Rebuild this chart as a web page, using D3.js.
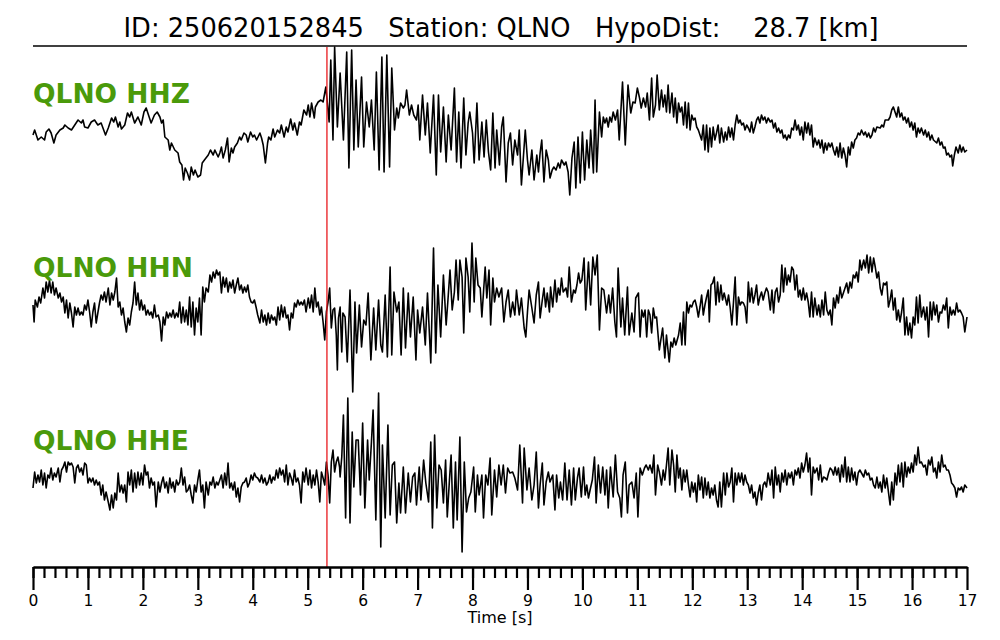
<!DOCTYPE html>
<html><head><meta charset="utf-8">
<script src="https://cdn.jsdelivr.net/npm/d3@7"></script>
<style>body{margin:0;background:#fff}svg{display:block}text{white-space:pre}</style>
</head><body>
<svg id="c" width="1000" height="640"></svg>
<script>
const titleText = "ID: 250620152845   Station: QLNO   HypoDist:    28.7 [km]";
const channels = ["QLNO HHZ", "QLNO HHN", "QLNO HHE"];
const pickTime = 5.35;
const majorTicks = d3.range(0, 18, 1);
const minorTicks = d3.range(0, 85).map(i => i * 0.2);
const xLabel = "Time [s]";

const hhz = [[0,-15],[0.03,-10],[0.09,-20],[0.15,-17],[0.21,-20],[0.24,-12],[0.29,-9],[0.33,-13],[0.38,-23],[0.42,-15],[0.49,-10],[0.55,-8],[0.58,-5],[0.64,-8],[0.70,-10],[0.76,-5],[0.82,0],[0.88,-3],[0.91,0],[0.94,-7],[1.00,-8],[1.06,-2],[1.12,0],[1.18,-5],[1.24,-3],[1.32,-15],[1.37,-8],[1.43,2],[1.47,-2],[1.50,3],[1.55,-7],[1.58,-2],[1.61,-9],[1.67,-5],[1.72,7],[1.76,3],[1.79,8],[1.85,-3],[1.91,3],[1.97,-5],[2.02,8],[2.06,12],[2.09,7],[2.15,-3],[2.21,5],[2.26,8],[2.31,3],[2.34,-3],[2.37,0],[2.40,-17],[2.46,-20],[2.49,-30],[2.52,-23],[2.58,-30],[2.64,-33],[2.67,-42],[2.71,-45],[2.74,-60],[2.77,-48],[2.81,-53],[2.85,-60],[2.88,-47],[2.92,-55],[2.95,-50],[3.00,-57],[3.05,-55],[3.08,-43],[3.12,-40],[3.19,-35],[3.23,-30],[3.28,-35],[3.31,-30],[3.37,-37],[3.40,-33],[3.43,-27],[3.46,-38],[3.50,-30],[3.54,-18],[3.57,-42],[3.61,-28],[3.64,-33],[3.67,-27],[3.72,-23],[3.76,-17],[3.79,-20],[3.84,-13],[3.88,-15],[3.91,-22],[3.96,-12],[4.00,-17],[4.03,-15],[4.07,-20],[4.13,-13],[4.16,-18],[4.19,-25],[4.23,-43],[4.27,-23],[4.29,-17],[4.33,-20],[4.37,-9],[4.40,-17],[4.45,-10],[4.49,-13],[4.52,-5],[4.57,-17],[4.61,-7],[4.64,-12],[4.69,1],[4.73,-10],[4.76,-3],[4.81,-15],[4.85,-2],[4.88,-5],[4.93,10],[4.98,5],[5.01,15],[5.04,3],[5.07,17],[5.12,2],[5.14,13],[5.19,18],[5.24,20],[5.28,18],[5.33,33],[5.39,-2],[5.42,60],[5.46,-20],[5.49,73],[5.54,-7],
[5.59,47],[5.65,-20],[5.71,68],[5.75,-48],[5.80,70],[5.84,-30],[5.88,40],[5.92,-27],[5.98,43],[6.02,-27],[6.07,18],[6.12,-7],[6.16,20],[6.21,-30],[6.25,48],[6.30,-50],[6.35,63],[6.39,-52],[6.44,65],[6.49,-47],[6.53,52],[6.58,-10],[6.62,12],[6.65,2],[6.69,17],[6.74,12],[6.77,15],[6.80,30],[6.85,5],[6.89,15],[6.93,5],[6.98,0],[7.01,15],[7.04,-20],[7.09,25],[7.14,-15],[7.18,17],[7.23,-33],[7.29,25],[7.34,-55],[7.38,25],[7.42,-32],[7.47,13],[7.52,-42],[7.56,5],[7.61,-30],[7.67,32],[7.71,-42],[7.75,8],[7.79,-48],[7.84,22],[7.88,-35],[7.92,-3],[7.95,8],[8.00,-13],[8.03,-43],[8.08,17],[8.12,-40],[8.17,-2],[8.21,-37],[8.25,0],[8.29,-32],[8.33,-50],[8.37,7],[8.41,-48],[8.44,-10],[8.49,-45],[8.53,-7],[8.56,3],[8.61,-62],[8.65,-23],[8.69,-13],[8.73,-45],[8.77,-20],[8.82,-35],[8.85,-10],[8.89,-65],[8.96,-10],[9.00,-40],[9.03,-55],[9.08,-30],[9.12,-60],[9.17,-35],[9.20,-52],[9.23,-33],[9.26,-20],[9.30,-62],[9.34,-30],[9.38,-40],[9.41,-58],[9.45,-50],[9.48,-47],[9.52,-50],[9.56,-43],[9.59,-48],[9.62,-40],[9.67,-45],[9.70,-42],[9.74,-52],[9.77,-75],[9.81,-38],[9.85,-22],[9.88,-68],[9.92,-17],[9.96,-63],[10.00,-12],[10.04,-60],[10.08,-20],[10.12,-48],[10.15,-10],[10.20,-53],[10.23,20],[10.26,-52],[10.31,8],[10.35,-17],[10.38,3],[10.41,-3],[10.44,2],[10.47,-7],[10.50,3],[10.53,-2],[10.56,8],[10.60,0],[10.64,10],[10.67,-20],[10.73,38],[10.78,-25],[10.83,35],[10.88,7],[10.92,18],[10.96,17],[11.00,32],[11.04,22],[11.07,12],[11.11,22],[11.15,13],[11.18,27],[11.22,0],[11.26,42],[11.29,3],[11.33,15],[11.36,45],[11.40,10],
[11.44,30],[11.47,13],[11.50,25],[11.53,8],[11.56,35],[11.59,7],[11.63,27],[11.66,3],[11.69,22],[11.72,-3],[11.75,17],[11.78,8],[11.81,13],[11.84,-5],[11.87,18],[11.90,-8],[11.93,17],[11.96,-10],[11.99,5],[12.02,0],[12.05,2],[12.08,-7],[12.11,-10],[12.14,-15],[12.17,-20],[12.20,-5],[12.23,-30],[12.26,-5],[12.29,-32],[12.32,-8],[12.35,-27],[12.38,-7],[12.41,-20],[12.44,-13],[12.47,-5],[12.50,-23],[12.53,-8],[12.57,-22],[12.60,-12],[12.63,-20],[12.66,-7],[12.69,-17],[12.72,-8],[12.75,-20],[12.78,-5],[12.81,5],[12.84,-3],[12.87,0],[12.90,-5],[12.93,-3],[12.96,-10],[12.99,-5],[13.02,-8],[13.05,-12],[13.08,-2],[13.11,-13],[13.14,-7],[13.17,0],[13.20,3],[13.23,-3],[13.26,5],[13.29,0],[13.32,3],[13.35,-3],[13.38,2],[13.42,-2],[13.45,0],[13.48,-8],[13.51,-3],[13.54,-12],[13.57,-8],[13.60,-13],[13.63,-10],[13.66,-18],[13.69,-15],[13.72,-20],[13.75,-15],[13.78,-18],[13.81,-8],[13.84,-10],[13.87,0],[13.90,-10],[13.93,-5],[13.96,-15],[13.99,-7],[14.02,-20],[14.05,-2],[14.08,-13],[14.11,-3],[14.14,-15],[14.17,-5],[14.20,-27],[14.23,-18],[14.27,-25],[14.30,-20],[14.33,-28],[14.36,-20],[14.39,-33],[14.42,-23],[14.45,-30],[14.48,-23],[14.51,-27],[14.54,-23],[14.57,-30],[14.60,-35],[14.63,-27],[14.66,-37],[14.69,-23],[14.72,-38],[14.75,-28],[14.78,-35],[14.81,-47],[14.84,-27],[14.87,-35],[14.90,-22],[14.93,-28],[14.96,-20],[14.99,-18],[15.02,-13],[15.05,-15],[15.08,-10],[15.12,-15],[15.15,-12],[15.18,-17],[15.21,-13],[15.24,-18],[15.27,-15],[15.30,-8],[15.33,-12],[15.36,-7],[15.42,-8],[15.45,-5],[15.48,-7],[15.51,0],[15.57,0],[15.60,3],[15.63,10],[15.66,13],[15.69,8],[15.72,3],[15.75,13],[15.78,3],[15.81,7],[15.84,0],[15.87,3],[15.90,-3],[15.93,2],[15.96,-7],[15.99,-2],[16.02,-10],[16.05,-3],[16.08,-17],[16.11,-8],[16.14,-13],[16.17,-8],[16.21,-15],[16.24,-10],[16.27,-17],[16.30,-12],[16.33,-20],[16.36,-15],[16.39,-20],[16.45,-23],[16.48,-18],[16.51,-25],[16.54,-22],[16.57,-28],[16.60,-27],[16.63,-35],[16.66,-33],[16.69,-37],[16.72,-35],[16.74,-46],[16.77,-35],[16.80,-27],[16.84,-33],[16.87,-25],[16.90,-32],[16.93,-27],[16.96,-32],[17.00,-30]];

const hhn = [[0,10],[0.02,-7],[0.04,15],[0.08,8],[0.11,18],[0.14,12],[0.18,27],[0.21,17],[0.24,33],[0.27,23],[0.30,35],[0.33,22],[0.36,33],[0.39,20],[0.42,27],[0.46,17],[0.49,22],[0.52,13],[0.55,18],[0.58,2],[0.61,15],[0.64,-3],[0.67,12],[0.70,2],[0.73,-12],[0.76,8],[0.79,0],[0.82,7],[0.85,0],[0.88,3],[0.91,0],[0.94,10],[0.97,5],[1.00,15],[1.03,3],[1.06,-12],[1.09,3],[1.12,12],[1.15,-8],[1.18,2],[1.21,12],[1.24,20],[1.27,15],[1.30,23],[1.33,13],[1.37,27],[1.40,10],[1.43,22],[1.46,15],[1.49,23],[1.52,37],[1.55,8],[1.58,13],[1.61,0],[1.64,7],[1.67,-7],[1.70,-17],[1.73,-3],[1.76,-10],[1.79,3],[1.82,12],[1.85,33],[1.88,10],[1.91,22],[1.94,5],[1.97,15],[2.00,5],[2.03,10],[2.06,0],[2.09,5],[2.12,0],[2.15,3],[2.18,-3],[2.21,10],[2.24,-2],[2.28,0],[2.31,-7],[2.34,-26],[2.37,-2],[2.40,-10],[2.43,3],[2.46,-3],[2.49,2],[2.52,-2],[2.55,5],[2.58,-3],[2.61,2],[2.64,-2],[2.67,13],[2.70,-8],[2.73,8],[2.76,-7],[2.79,5],[2.82,-10],[2.85,18],[2.88,-12],[2.91,13],[2.94,-20],[2.97,7],[3.00,-7],[3.03,17],[3.06,-20],[3.09,28],[3.12,13],[3.15,27],[3.19,23],[3.22,40],[3.25,33],[3.28,43],[3.31,37],[3.34,45],[3.37,40],[3.40,43],[3.43,22],[3.46,38],[3.49,28],[3.52,37],[3.55,23],[3.58,33],[3.61,27],[3.64,35],[3.67,22],[3.70,30],[3.73,37],[3.76,25],[3.79,30],[3.82,22],[3.85,28],[3.88,23],[3.91,30],[3.94,18],[3.97,13],[4.00,12],[4.03,15],[4.06,8],[4.09,0],[4.13,-8],[4.16,5],[4.19,-7],[4.22,0],[4.25,-10],[4.28,2],[4.31,-8],[4.34,0],[4.37,-5],[4.40,-2],[4.43,-10],[4.46,8],[4.49,-5],[4.52,10],[4.55,-2],[4.58,8],[4.61,-3],[4.64,0],[4.67,-15],[4.70,2],[4.73,-3],[4.76,12],[4.79,8],[4.82,15],[4.85,10],[4.88,13],[4.91,10],[4.94,15],[4.97,3],[5.01,17],[5.04,7],[5.07,20],[5.10,3],[5.13,27],[5.16,8],[5.19,13],[5.22,0],[5.25,8],[5.28,-7],[5.31,-25],[5.34,3],[5.37,13],[5.40,27],[5.43,-13],[5.46,5],[5.49,7],[5.52,-20],[5.54,-55],[5.56,-3],[5.59,8],[5.62,-37],[5.64,2],[5.68,-2],[5.72,-47],[5.77,25],[5.82,-77],[5.86,13],[5.89,-38],[5.94,10],[5.98,-32],[6.02,-5],[6.06,-10],[6.10,22],[6.15,-45],[6.20,7],[6.24,-35],[6.29,15],[6.33,-30],[6.36,-37],[6.41,20],[6.45,-42],[6.50,48],[6.53,-40],[6.57,23],[6.62,3],[6.66,13],[6.70,-40],[6.74,27],[6.78,-33],[6.83,22],[6.87,-22],[6.92,18],[6.97,-45],[7.00,5],[7.04,-18],[7.09,8],[7.14,-30],[7.18,22],[7.24,-48],[7.29,67],[7.33,-38],[7.37,30],[7.42,-22],[7.47,40],[7.52,-10],[7.55,13],[7.59,45],[7.63,5],[7.67,23],[7.70,55],[7.74,15],[7.77,55],[7.81,38],[7.84,-18],[7.88,57],[7.92,38],[7.95,3],[7.99,72],[8.03,13],[8.06,57],[8.10,30],[8.14,27],[8.17,-2],[8.20,23],[8.23,48],[8.26,17],[8.30,45],[8.33,-10],[8.37,37],[8.40,13],[8.44,27],[8.48,18],[8.53,27],[8.57,-7],[8.61,13],[8.65,25],[8.69,-2],[8.73,13],[8.77,0],[8.80,25],[8.85,0],[8.89,17],[8.94,-13],[8.97,-22],[9.00,3],[9.03,25],[9.08,7],[9.12,-8],[9.16,20],[9.20,33],[9.23,-3],[9.27,15],[9.30,27],[9.33,8],[9.36,22],[9.40,3],[9.42,28],[9.46,8],[9.50,35],[9.53,13],[9.56,27],[9.59,20],[9.62,37],[9.65,23],[9.70,27],[9.73,18],[9.76,48],[9.80,13],[9.84,25],[9.87,22],[9.90,30],[9.93,42],[9.96,32],[9.99,35],[10.03,57],[10.06,5],[10.11,53],[10.15,10],[10.19,58],[10.23,40],[10.27,60],[10.31,-15],[10.35,27],[10.39,25],[10.44,2],[10.48,20],[10.51,2],[10.55,27],[10.59,-7],[10.62,-22],[10.65,47],[10.70,-12],[10.73,17],[10.77,-20],[10.82,28],[10.85,-20],[10.90,2],[10.94,-17],[10.97,17],[11.02,22],[11.05,-22],[11.08,5],[11.11,-2],[11.14,5],[11.17,-22],[11.20,5],[11.23,0],[11.26,-18],[11.29,7],[11.32,-3],[11.35,-2],[11.40,-35],
[11.46,-13],[11.50,-43],[11.53,-20],[11.58,-47],[11.61,-27],[11.64,-32],[11.67,-23],[11.70,-30],[11.75,-20],[11.78,-8],[11.81,-30],[11.84,3],[11.87,-30],[11.90,13],[11.93,2],[11.96,10],[11.99,8],[12.02,13],[12.05,15],[12.08,8],[12.11,-2],[12.14,8],[12.17,20],[12.20,0],[12.23,10],[12.26,18],[12.29,25],[12.31,-7],[12.34,30],[12.37,32],[12.40,38],[12.43,10],[12.46,33],[12.49,13],[12.52,30],[12.55,15],[12.58,22],[12.63,10],[12.66,20],[12.69,7],[12.72,-10],[12.75,13],[12.78,38],[12.81,-10],[12.84,18],[12.87,10],[12.90,13],[12.93,12],[12.96,8],[12.99,-8],[13.02,33],[13.05,13],[13.08,27],[13.11,12],[13.14,20],[13.17,30],[13.20,10],[13.23,18],[13.26,23],[13.29,15],[13.32,22],[13.35,27],[13.38,23],[13.42,5],[13.45,25],[13.48,2],[13.51,23],[13.54,27],[13.57,13],[13.60,20],[13.63,50],[13.66,23],[13.69,47],[13.72,30],[13.75,40],[13.78,33],[13.81,48],[13.84,45],[13.87,25],[13.90,40],[13.93,18],[13.96,25],[13.99,15],[14.02,27],[14.05,15],[14.08,22],[14.11,13],[14.14,-2],[14.17,23],[14.20,-2],[14.23,17],[14.27,0],[14.30,10],[14.33,-2],[14.36,15],[14.39,0],[14.42,23],[14.45,5],[14.48,0],[14.51,5],[14.54,-10],[14.57,17],[14.60,7],[14.63,20],[14.66,12],[14.69,28],[14.72,17],[14.75,22],[14.78,27],[14.81,32],[14.84,22],[14.87,33],[14.90,27],[14.93,40],[14.96,37],[14.99,43],[15.02,33],[15.05,55],[15.08,45],[15.12,55],[15.15,47],[15.18,60],[15.21,42],[15.24,58],[15.27,43],[15.30,57],[15.33,48],[15.36,37],[15.39,43],[15.42,27],[15.45,20],[15.48,32],[15.51,30],[15.54,33],[15.57,8],[15.60,15],[15.63,25],[15.66,5],[15.69,17],[15.72,-5],[15.75,5],[15.78,-7],[15.81,3],[15.84,17],[15.87,-20],[15.90,-2],[15.93,-20],[15.96,-8],[15.99,-23],[16.02,-2],[16.05,-10],[16.08,18],[16.11,-8],[16.14,20],[16.17,-2],[16.21,8],[16.24,-5],[16.27,8],[16.30,-22],[16.33,13],[16.36,-5],[16.39,13],[16.42,0],[16.45,10],[16.48,-7],[16.51,3],[16.54,2],[16.57,10],[16.60,5],[16.63,17],[16.66,-13],[16.69,8],[16.72,0],[16.75,5],[16.78,0],[16.81,12],[16.84,3],[16.87,5],[16.90,2],[16.93,-2],[16.96,-17],[17.00,-2]];

const hhe = [[0,-23],[0.03,-7],[0.06,-18],[0.09,-10],[0.12,-17],[0.15,-5],[0.18,-20],[0.21,-8],[0.24,-23],[0.27,-10],[0.30,-13],[0.33,-3],[0.36,-15],[0.39,-8],[0.42,-12],[0.46,-3],[0.49,-17],[0.52,-5],[0.55,-2],[0.58,3],[0.61,-7],[0.64,3],[0.67,0],[0.70,2],[0.73,-2],[0.76,-18],[0.79,-3],[0.82,0],[0.85,-7],[0.88,-3],[0.91,-10],[0.94,2],[0.97,0],[1.00,-18],[1.03,-13],[1.06,-17],[1.09,-13],[1.12,-20],[1.15,-15],[1.18,-20],[1.21,-17],[1.24,-30],[1.27,-20],[1.30,-35],[1.33,-27],[1.37,-37],[1.40,-45],[1.43,-30],[1.46,-43],[1.49,-28],[1.52,-35],[1.55,-8],[1.58,-27],[1.61,-20],[1.64,-28],[1.67,-20],[1.70,-37],[1.73,-7],[1.76,-20],[1.79,-5],[1.82,-27],[1.85,-8],[1.88,-23],[1.91,-7],[1.94,-20],[1.97,-8],[2.00,-20],[2.03,0],[2.06,-10],[2.09,-7],[2.12,-23],[2.15,-13],[2.18,-20],[2.21,-17],[2.24,-42],[2.28,-17],[2.31,-27],[2.34,-18],[2.37,-12],[2.40,-23],[2.43,-17],[2.46,-28],[2.49,-13],[2.52,-23],[2.55,-17],[2.58,-27],[2.61,-15],[2.64,-20],[2.67,-17],[2.70,-3],[2.73,-20],[2.76,-12],[2.79,-27],[2.82,-25],[2.85,-20],[2.88,-30],[2.91,-38],[2.94,-20],[2.97,-27],[3.00,-15],[3.03,-5],[3.06,-27],[3.09,-20],[3.12,-43],[3.15,-17],[3.19,-30],[3.22,-17],[3.25,-20],[3.28,-12],[3.31,-23],[3.34,-17],[3.37,-20],[3.40,-15],[3.43,-10],[3.46,-23],[3.49,-8],[3.52,-20],[3.55,2],[3.58,-23],[3.61,-18],[3.64,-25],[3.67,-17],[3.70,-32],[3.73,-23],[3.76,-37],[3.79,-22],[3.82,-18],[3.85,-17],[3.88,-13],[3.91,-22],[3.94,-18],[3.97,-10],[4.00,-15],[4.03,-8],[4.06,-12],[4.09,-13],[4.13,-17],[4.16,-10],[4.19,-18],[4.22,-13],[4.25,-20],[4.28,-17],[4.31,-10],[4.34,-18],[4.37,-12],[4.40,-15],[4.43,-5],[4.46,-13],[4.49,-3],[4.52,-10],[4.55,-5],[4.58,-17],[4.61,0],[4.64,-20],[4.67,-8],[4.70,-13],[4.73,-20],[4.76,-5],[4.79,-17],[4.82,-13],[4.85,-20],[4.88,-38],[4.91,-7],[4.94,-17],[4.97,-3],[5.01,-20],[5.04,-5],[5.07,-23],[5.10,-10],[5.13,-20],[5.16,-5],[5.19,-17],[5.22,-37],[5.25,-7],[5.28,-13],[5.31,-20],[5.34,3],[5.37,-10],[5.40,-38],[5.43,3],[5.46,15],[5.49,-7],[5.52,3],[5.55,8],[5.58,-2],
[5.59,-12],[5.62,8],[5.65,50],[5.69,-53],[5.73,67],[5.77,-58],[5.81,33],[5.84,-22],[5.88,25],[5.92,25],[5.96,-30],[6.00,42],[6.04,-43],[6.09,25],[6.12,-15],[6.16,23],[6.19,55],[6.24,-55],[6.29,72],[6.33,-82],[6.36,20],[6.41,-53],[6.46,40],[6.50,-50],[6.54,0],[6.58,3],[6.62,-58],[6.66,-18],[6.69,-48],[6.74,-2],[6.78,-48],[6.83,-8],[6.87,-37],[6.91,-12],[6.95,-8],[6.98,-40],[7.03,-2],[7.06,-35],[7.11,5],[7.15,-18],[7.20,-37],[7.24,23],[7.27,-63],[7.31,30],[7.35,-43],[7.39,0],[7.43,-5],[7.47,-38],[7.51,5],[7.54,-52],[7.58,-15],[7.61,10],[7.65,-63],[7.69,3],[7.72,-55],[7.77,28],[7.81,-87],[7.85,3],[7.89,-47],[7.93,-33],[7.97,-27],[8.02,-2],[8.05,-47],[8.09,-10],[8.12,-30],[8.17,-10],[8.20,-53],[8.24,-10],[8.28,-20],[8.32,7],[8.35,-50],[8.40,-5],[8.44,-32],[8.48,0],[8.52,-20],[8.56,0],[8.60,-28],[8.64,-3],[8.68,-8],[8.73,-7],[8.77,-13],[8.82,-25],[8.86,20],[8.91,-38],[8.94,17],[8.99,-25],[9.03,-3],[9.08,-35],[9.12,-20],[9.16,13],[9.20,-43],[9.23,-20],[9.27,2],[9.30,-40],[9.34,-17],[9.38,-7],[9.41,-17],[9.46,-10],[9.50,-45],[9.53,-10],[9.57,-33],[9.60,-17],[9.64,-35],[9.68,2],[9.72,-35],[9.76,-5],[9.80,-40],[9.84,-3],[9.87,-35],[9.91,-13],[9.94,-3],[9.98,-32],[10.02,-2],[10.05,-30],[10.08,-20],[10.11,-33],[10.14,-25],[10.18,-15],[10.22,8],[10.25,-38],[10.29,0],[10.33,-28],[10.37,-2],[10.41,-30],[10.44,-5],[10.47,-43],[10.51,-2],[10.56,-32],[10.60,10],[10.64,-27],[10.68,-33],[10.71,-52],[10.74,-10],[10.78,3],[10.82,-48],[10.85,-20],[10.90,-17],[10.94,-33],[10.98,-8],[11.01,-52],[11.05,-3],[11.09,-10],[11.13,-3],[11.16,0],[11.20,-5],[11.23,0],[11.27,-8],[11.30,10],[11.33,-30],[11.37,0],[11.40,-7],
[11.44,-20],[11.47,-5],[11.50,-15],[11.53,0],[11.56,17],[11.59,-20],[11.63,15],[11.66,0],[11.69,-27],[11.72,10],[11.75,-13],[11.78,-3],[11.81,-25],[11.84,-5],[11.87,-17],[11.90,-5],[11.93,-20],[11.96,-32],[11.99,-17],[12.02,-27],[12.05,-18],[12.08,-37],[12.11,-10],[12.14,-25],[12.17,-12],[12.20,-33],[12.23,-13],[12.26,-30],[12.29,-17],[12.32,-33],[12.35,-23],[12.38,-30],[12.41,-20],[12.44,-35],[12.47,-42],[12.50,-17],[12.53,-42],[12.57,-8],[12.60,-30],[12.63,-8],[12.66,-22],[12.69,-17],[12.72,-3],[12.75,-37],[12.78,-8],[12.81,-20],[12.84,-8],[12.87,-17],[12.90,-8],[12.93,-20],[12.96,-10],[12.99,-17],[13.02,-20],[13.05,-28],[13.08,-20],[13.11,-33],[13.14,-27],[13.17,-40],[13.20,-28],[13.23,-20],[13.26,-35],[13.29,-20],[13.32,-17],[13.35,-22],[13.38,-8],[13.42,-20],[13.45,-5],[13.48,-33],[13.51,-2],[13.54,-20],[13.57,-10],[13.60,-27],[13.63,-8],[13.66,-17],[13.69,-5],[13.72,-20],[13.75,-8],[13.78,-13],[13.81,-7],[13.84,-20],[13.87,-5],[13.90,-10],[13.93,-3],[13.96,-13],[13.99,2],[14.02,-7],[14.05,0],[14.08,12],[14.11,-7],[14.14,7],[14.17,-30],[14.20,-2],[14.23,-8],[14.27,-3],[14.30,-15],[14.33,0],[14.36,-17],[14.39,-12],[14.42,-13],[14.45,-15],[14.48,-8],[14.51,-3],[14.54,-5],[14.57,-10],[14.60,-2],[14.63,-10],[14.66,-3],[14.69,-17],[14.72,0],[14.75,-12],[14.78,8],[14.81,-17],[14.84,-2],[14.87,-17],[14.90,-3],[14.93,-15],[14.96,-7],[14.99,-20],[15.02,-8],[15.05,-5],[15.08,-8],[15.12,-12],[15.15,-5],[15.18,-10],[15.21,-8],[15.24,-15],[15.27,-13],[15.30,-20],[15.33,-23],[15.36,-12],[15.39,-23],[15.42,-17],[15.45,-27],[15.48,-10],[15.51,-23],[15.54,-13],[15.57,-27],[15.60,-40],[15.63,-17],[15.66,-35],[15.69,-8],[15.72,-20],[15.75,0],[15.78,-17],[15.81,2],[15.84,-22],[15.87,3],[15.90,-12],[15.93,-2],[15.96,-8],[15.99,2],[16.02,-7],[16.05,10],[16.08,0],[16.11,18],[16.14,2],[16.17,3],[16.21,-2],[16.24,0],[16.27,-10],[16.30,5],[16.33,0],[16.36,8],[16.39,-7],[16.42,-3],[16.45,-13],[16.48,3],[16.51,-7],[16.54,10],[16.57,-2],[16.60,0],[16.63,-5],[16.66,-5],[16.69,-10],[16.72,-18],[16.75,-20],[16.78,-23],[16.81,-32],[16.84,-23],[16.87,-25],[16.90,-22],[16.93,-27],[16.96,-20],[17.00,-23]];

const series = [hhz, hhn, hhe];

// ---------- layout ----------
const svg = d3.select("#c");
const L = 33, R = 967, topLineY = 46, axisY = 567;
const centers = [120, 315, 465];
const labelBaselines = [103, 277, 450];
const green = "#4a9a0a";

const x = d3.scaleLinear().domain([0, 17]).range([L, R]);

svg.append("text").attr("x", 501).attr("y", 37).attr("text-anchor", "middle")
  .attr("font-family", "DejaVu Sans").attr("font-size", 25.7).attr("fill", "#000")
  .text(titleText);

svg.append("line").attr("x1", L).attr("x2", R).attr("y1", topLineY).attr("y2", topLineY)
  .attr("stroke", "#000").attr("stroke-width", 1.5);

series.forEach((data, i) => {
  const y = d3.scaleLinear().domain([-100, 100]).range([centers[i] + 100, centers[i] - 100]);
  const line = d3.line().x(d => x(d[0])).y(d => y(d[1]));
  svg.append("path").datum(data).attr("d", line)
    .attr("fill", "none").attr("stroke", "#000").attr("stroke-width", 1.6)
    .attr("stroke-linejoin", "round");
  svg.append("text").attr("x", L).attr("y", labelBaselines[i])
    .attr("font-family", "DejaVu Sans").attr("font-weight", "bold").attr("font-size", 26.5)
    .attr("fill", green).text(channels[i]);
});

// pick line
svg.append("line").attr("x1", x(pickTime)).attr("x2", x(pickTime))
  .attr("y1", topLineY + 1).attr("y2", axisY)
  .attr("stroke", "#e8191c").attr("stroke-width", 1.3);

// axis
const minorAxis = d3.axisBottom(x).tickValues(minorTicks).tickSize(11).tickSizeOuter(0).tickFormat("");
const gMinor = svg.append("g").attr("transform", `translate(0,${axisY})`).call(minorAxis);
const majorAxis = d3.axisBottom(x).tickValues(majorTicks).tickSize(23).tickSizeOuter(0).tickPadding(5).tickFormat(d3.format("d"));
const gMajor = svg.append("g").attr("transform", `translate(0,${axisY})`).call(majorAxis);
[gMinor, gMajor].forEach(g => {
  g.select(".domain").attr("stroke", "#000").attr("stroke-width", 2.2);
  g.selectAll(".tick line").attr("stroke", "#000").attr("stroke-width", 2.2);
});
gMajor.selectAll(".tick text").attr("font-family", "DejaVu Sans").attr("font-size", 15.5).attr("fill", "#000");

svg.append("text").attr("x", 500).attr("y", 623).attr("text-anchor", "middle")
  .attr("font-family", "DejaVu Sans").attr("font-size", 16).attr("fill", "#000").text(xLabel);
</script>
</body></html>
